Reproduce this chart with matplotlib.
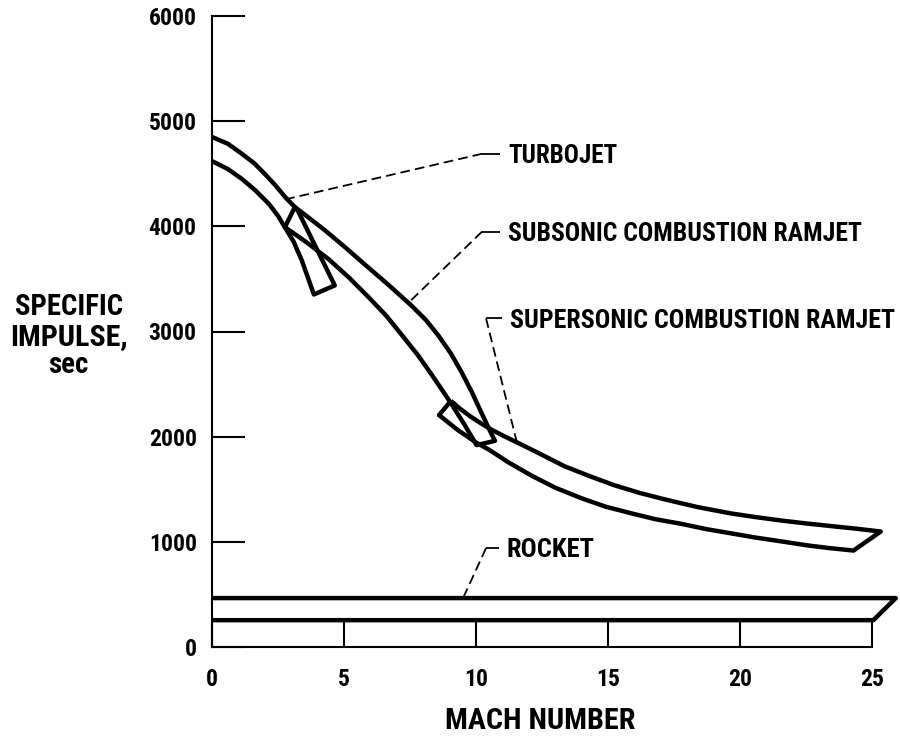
"""Specific impulse vs. Mach number for turbojet, ramjet and rocket propulsion.

Each engine class is drawn as an outlined band (no fill) between an upper and
a lower specific-impulse boundary. Bands that start on the Isp axis are left
open there; the other ends get a straight cap.
"""
import numpy as np
import matplotlib
matplotlib.use("Agg")
import matplotlib.pyplot as plt
from matplotlib import font_manager as fm

# --- band boundaries: (Mach, Isp sec) ------------------------------------- #
turbojet_upper_mach = [0.0, 0.6, 1.13, 1.6, 2.0, 2.4, 2.8, 3.14, 3.25, 3.9,
                       4.65]
turbojet_upper_isp = [4850, 4785, 4690, 4600, 4498, 4390, 4270, 4183, 4150,
                      3819, 3438]
turbojet_lower_mach = [0.0, 0.6, 1.13, 1.65, 2.16, 2.5, 2.76, 3.1, 3.4, 3.86]
turbojet_lower_isp = [4620, 4545, 4451, 4340, 4212, 4100, 3992, 3850, 3677,
                      3352]

subsonic_upper_mach = [3.14, 3.7, 4.27, 5.0, 5.78, 6.7, 7.56, 8.1, 8.58, 9.05,
                       9.45, 9.85, 10.21, 10.5, 10.72]
subsonic_upper_isp = [4183, 4075, 3964, 3810, 3639, 3440, 3245, 3110, 2960,
                      2790, 2615, 2420, 2225, 2070, 1960]
subsonic_lower_mach = [2.76, 3.6, 4.42, 5.2, 5.94, 6.6, 7.18, 7.8, 8.32, 8.7,
                       9.07, 9.55, 10.02]
subsonic_lower_isp = [3992, 3845, 3687, 3510, 3324, 3150, 2970, 2775, 2590,
                      2450, 2310, 2120, 1920]

supersonic_upper_mach = [9.05, 9.4, 9.8, 10.2, 10.6, 11.1, 11.6, 12.4, 13.35,
                         14.3, 15.24, 16.2, 17.13, 18.4, 19.66, 20.6, 21.55,
                         22.5, 23.44, 24.4, 25.33]
supersonic_upper_isp = [2340, 2265, 2190, 2125, 2065, 2000, 1940, 1840, 1719,
                        1625, 1538, 1465, 1405, 1330, 1270, 1235, 1203, 1175,
                        1150, 1125, 1098]
supersonic_lower_mach = [8.6, 9.3, 10.0, 10.5, 11.2, 12.1, 13.0, 14.0, 14.9,
                         15.9, 16.8, 17.8, 18.7, 19.7, 20.6, 21.6, 22.5, 23.4,
                         24.3]
supersonic_lower_isp = [2205, 2065, 1945, 1875, 1760, 1630, 1515, 1414, 1335,
                        1270, 1215, 1170, 1122, 1079, 1040, 1003, 968, 940,
                        917]

rocket_upper_mach = [0.0, 25.9]
rocket_upper_isp = [465, 465]
rocket_lower_mach = [0.0, 25.05]
rocket_lower_isp = [255, 255]

# --- axis ticks ------------------------------------------------------------ #
mach_ticks = [0, 5, 10, 15, 20, 25]
isp_ticks = [0, 1000, 2000, 3000, 4000, 5000, 6000]

# --- callouts: label, text anchor, leader start (near text), leader end ---- #
callout_labels = ["TURBOJET", "SUBSONIC COMBUSTION RAMJET",
                  "SUPERSONIC COMBUSTION RAMJET", "ROCKET"]
callout_text_xy = [(11.21, 4600), (11.21, 3860), (11.29, 3030), (11.17, 860)]
callout_elbow_xy = [(10.23, 4690), (10.23, 3950), (10.38, 3125), (10.38, 940)]
callout_end_xy = [(2.88, 4262), (7.45, 3275), (11.55, 1945), (9.51, 465)]
# lettering width of each label, in pixels
callout_width_px = [110, 354, 386, 88]

BAND_LW = 3.2
LEADER_LW = 1.3


def pick_condensed_font():
    """Return (family, stretch) for a bold narrow sans if one is installed."""
    entries = fm.fontManager.ttflist
    names = {f.name for f in entries}
    for fam in ("Liberation Sans Narrow", "Arial Narrow", "Roboto Condensed",
                "Open Sans Condensed", "Noto Sans Condensed"):
        if fam in names:
            return fam, "normal"
    for f in entries:
        if f.name == "DejaVu Sans" and f.stretch == "condensed":
            return "DejaVu Sans", "condensed"
    for f in entries:
        if f.stretch == "condensed":
            return f.name, "condensed"
    return "DejaVu Sans", "normal"


FONT_FAMILY, FONT_STRETCH = pick_condensed_font()
plt.rcParams["font.family"] = [FONT_FAMILY, "DejaVu Sans"]
plt.rcParams["font.stretch"] = FONT_STRETCH
plt.rcParams["font.weight"] = "bold"


def fit_width(text, width_px, renderer):
    """Rescale a text's size so its lettering runs width_px wide."""
    w = text.get_window_extent(renderer).width
    if w > 0:
        text.set_fontsize(text.get_fontsize() * width_px / w)


def band_outline(ux, uy, lx, ly, close_left):
    """Upper edge left->right, right cap, lower edge back; optional left cap."""
    xs = list(ux) + list(lx)[::-1]
    ys = list(uy) + list(ly)[::-1]
    if close_left:
        xs.append(ux[0])
        ys.append(uy[0])
    return np.array(xs), np.array(ys)


fig = plt.figure(figsize=(9.0, 7.36), dpi=100)
ax = fig.add_axes([212 / 900, 89 / 736, 26 * 26.4 / 900, 631 / 736])

bands = [
    (turbojet_upper_mach, turbojet_upper_isp,
     turbojet_lower_mach, turbojet_lower_isp, False),
    (subsonic_upper_mach, subsonic_upper_isp,
     subsonic_lower_mach, subsonic_lower_isp, True),
    (supersonic_upper_mach, supersonic_upper_isp,
     supersonic_lower_mach, supersonic_lower_isp, True),
    (rocket_upper_mach, rocket_upper_isp,
     rocket_lower_mach, rocket_lower_isp, False),
]
for ux, uy, lx, ly, closed in bands:
    bx, by = band_outline(ux, uy, lx, ly, closed)
    ax.plot(bx, by, color="black", lw=BAND_LW, solid_joinstyle="round",
            solid_capstyle="butt", clip_on=False, zorder=3)

# --- callout leaders and labels -------------------------------------------- #
callout_texts = []
for label, (tx, ty), (ex, ey), (px, py) in zip(
        callout_labels, callout_text_xy, callout_elbow_xy, callout_end_xy):
    ax.plot([ex, tx - 0.3], [ey, ey], color="black", lw=LEADER_LW,
            solid_capstyle="butt", zorder=2)
    ax.plot([ex, px], [ey, py], color="black", lw=LEADER_LW,
            linestyle=(0, (5.4, 2.8)), zorder=2)
    callout_texts.append(ax.text(tx, ty, label, fontsize=17,
                                 fontweight="bold", ha="left", va="baseline"))

# --- axes ------------------------------------------------------------------ #
ax.set_xlim(0, 26)
ax.set_ylim(0, 6000)
for side in ("top", "right"):
    ax.spines[side].set_visible(False)
ax.spines["left"].set_bounds(0, 6000)
ax.spines["bottom"].set_bounds(0, 25)
for side in ("left", "bottom"):
    ax.spines[side].set_linewidth(1.5)

ax.set_xticks(mach_ticks)
ax.set_xticklabels([str(m) for m in mach_ticks])
ax.set_yticks(isp_ticks)
ax.set_yticklabels([str(v) for v in isp_ticks])
ax.tick_params(axis="x", direction="in", length=19, width=1.5, pad=15)
ax.tick_params(axis="y", direction="in", length=24, width=1.5, pad=11)

xlabel = fig.text(540 / 900, 1 - 729 / 736, "MACH NUMBER", fontsize=21,
                  fontweight="bold", ha="center", va="baseline")
ylabel_lines = [
    fig.text(69 / 900, 1 - 315 / 736, "SPECIFIC", fontsize=20,
             fontweight="bold", ha="center", va="baseline"),
    fig.text(69 / 900, 1 - 345 / 736, "IMPULSE,", fontsize=20,
             fontweight="bold", ha="center", va="baseline"),
    fig.text(68 / 900, 1 - 373 / 736, "sec", fontsize=20,
             fontweight="bold", ha="center", va="baseline"),
]

# size tick labels so "6000" spans about 48 px
renderer = fig.canvas.get_renderer()
probe = fig.text(0, 0, "6000", fontsize=19, fontweight="bold")
tick_size = 19 * 48 / probe.get_window_extent(renderer).width
probe.remove()
ax.tick_params(axis="both", labelsize=tick_size)
for lbl in ax.get_xticklabels() + ax.get_yticklabels():
    lbl.set_fontweight("bold")

for t, w in zip(callout_texts, callout_width_px):
    fit_width(t, w, renderer)
fit_width(xlabel, 190, renderer)
for t, w in zip(ylabel_lines, [108, 118, 40]):
    fit_width(t, w, renderer)

fig.savefig("out.png", dpi=100)
